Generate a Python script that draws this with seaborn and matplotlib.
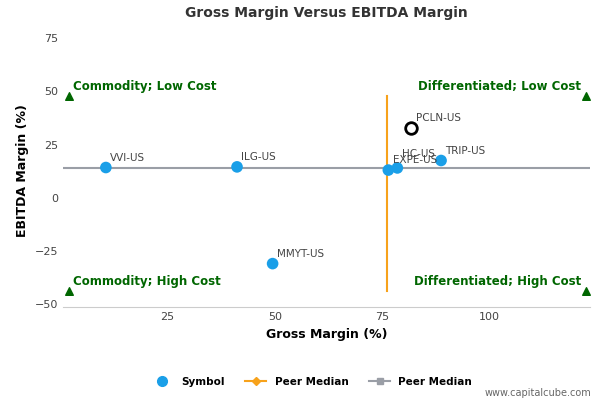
import numpy as np
import pandas as pd
import matplotlib.pyplot as plt
import seaborn as sns
from matplotlib.lines import Line2D

symbols = ['VVI-US', 'ILG-US', 'MMYT-US', 'EXPE-US', 'HC-US', 'TRIP-US']
gross = [10.6, 41.2, 49.5, 76.5, 78.6, 88.8]
ebitda = [14.2, 14.5, -31.0, 13.0, 14.0, 17.5]
focus_name, focus_x, focus_y = 'PCLN-US', 81.9, 33.0
median_x, median_y = 76.3, 14.2
x_ticks = [25, 50, 75, 100]
y_ticks = [-50, -25, 0, 25, 50, 75]

df = pd.DataFrame({'sym': symbols, 'x': gross, 'y': ebitda})

fig, ax = plt.subplots(figsize=(6, 4), dpi=100)
fig.subplots_adjust(left=0.105, right=0.983, top=0.915, bottom=0.232)

ax.plot([median_x, median_x], [-44, 48], color='#f7a21b', lw=1.5, zorder=2)
ax.axhline(median_y, color='#9a9ea6', lw=1.5, zorder=2)
sns.scatterplot(data=df, x='x', y='y', ax=ax, color='#1a9fe8', s=70, edgecolor='none', zorder=3, legend=False)
ax.scatter([focus_x], [focus_y], s=70, facecolor='white', edgecolor='black', lw=2, zorder=4)

for s, x, y in zip(symbols, gross, ebitda):
    dy = 8 if s == 'HC-US' else 5
    ax.annotate(s, (x, y), xytext=(3, dy), textcoords='offset points', fontsize=7.5, color='#444444')
ax.annotate(focus_name, (focus_x, focus_y), xytext=(3, 5), textcoords='offset points', fontsize=7.5, color='#444444')

green = '#006600'
for tx, ty, lbl, ha in [(2, 48, 'Commodity; Low Cost', 'left'), (122.5, 48, 'Differentiated; Low Cost', 'right'),
                        (2, -44, 'Commodity; High Cost', 'left'), (122.5, -44, 'Differentiated; High Cost', 'right')]:
    ax.scatter([tx], [ty], marker='^', color=green, s=30, zorder=4)
    off = 3 if ha == 'left' else -3
    ax.annotate(lbl, (tx, ty), xytext=(off, 2), textcoords='offset points', ha=ha, va='bottom',
                fontsize=8.5, fontweight='bold', color=green)

ax.set_xlim(0.6, 123.5)
ax.set_ylim(-51.5, 77)
ax.set_xticks(x_ticks)
ax.set_yticks(y_ticks)
ax.tick_params(labelsize=8, colors='#444444', length=0)
ax.set_xlabel('Gross Margin (%)', fontsize=9, fontweight='bold')
ax.set_ylabel('EBITDA Margin (%)', fontsize=9, fontweight='bold')
ax.set_title('Gross Margin Versus EBITDA Margin', fontsize=10, fontweight='bold', color='#333333', pad=12)
for sp in ['top', 'right', 'left']:
    ax.spines[sp].set_visible(False)
ax.spines['bottom'].set_color('#cccccc')

handles = [Line2D([], [], marker='o', ls='', color='#1a9fe8', markersize=7),
           Line2D([], [], marker='D', color='#f7a21b', markersize=4),
           Line2D([], [], marker='s', color='#9a9ea6', markersize=5)]
fig.legend(handles, ['Symbol', 'Peer Median', 'Peer Median'], loc='lower center', ncol=3,
           bbox_to_anchor=(0.52, 0.01), frameon=False, prop={'size': 7.5, 'weight': 'bold'})
fig.text(0.985, 0.01, 'www.capitalcube.com', ha='right', fontsize=7, color='#666666')

fig.savefig('out.png')
